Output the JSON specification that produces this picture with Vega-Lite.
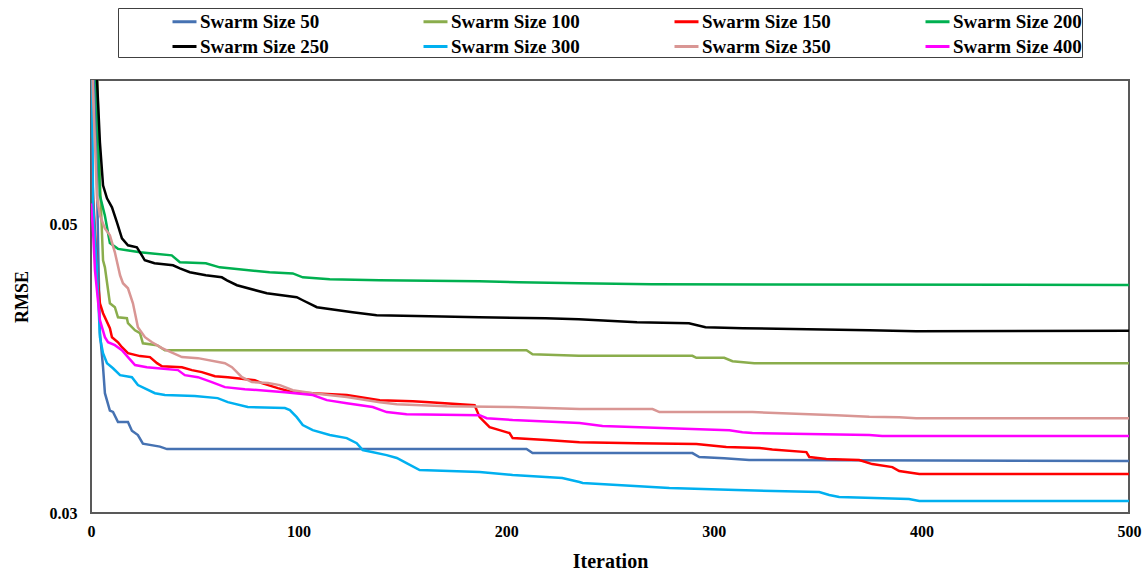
{
  "$schema": "https://vega.github.io/schema/vega-lite/v6.json",
  "width": 1038,
  "height": 433,
  "autosize": {"type": "none"},
  "padding": {"left": 91, "top": 80, "right": 16, "bottom": 60},
  "background": "white",
  "config": {
    "view": {"stroke": "#595959", "strokeWidth": 2},
    "font": "Liberation Serif"
  },
  "datasets": {
    "d": [
      {"s": "Swarm Size 50", "i": 0, "v": 0.075},
      {"s": "Swarm Size 50", "i": 2, "v": 0.06},
      {"s": "Swarm Size 50", "i": 3.5, "v": 0.048},
      {"s": "Swarm Size 50", "i": 4.3, "v": 0.0425},
      {"s": "Swarm Size 50", "i": 5.8, "v": 0.0401},
      {"s": "Swarm Size 50", "i": 6.7, "v": 0.0383},
      {"s": "Swarm Size 50", "i": 9.1, "v": 0.0371},
      {"s": "Swarm Size 50", "i": 10.6, "v": 0.037},
      {"s": "Swarm Size 50", "i": 13, "v": 0.0363},
      {"s": "Swarm Size 50", "i": 17.8, "v": 0.0363},
      {"s": "Swarm Size 50", "i": 19.7, "v": 0.0357},
      {"s": "Swarm Size 50", "i": 22.6, "v": 0.0354},
      {"s": "Swarm Size 50", "i": 25, "v": 0.0348},
      {"s": "Swarm Size 50", "i": 33.2, "v": 0.0346},
      {"s": "Swarm Size 50", "i": 36.6, "v": 0.03443},
      {"s": "Swarm Size 50", "i": 209.8, "v": 0.03443},
      {"s": "Swarm Size 50", "i": 212.7, "v": 0.03415},
      {"s": "Swarm Size 50", "i": 289.7, "v": 0.03415},
      {"s": "Swarm Size 50", "i": 293, "v": 0.03388},
      {"s": "Swarm Size 50", "i": 305, "v": 0.0338},
      {"s": "Swarm Size 50", "i": 317, "v": 0.03367},
      {"s": "Swarm Size 50", "i": 500, "v": 0.0336},

      {"s": "Swarm Size 100", "i": 0, "v": 0.08},
      {"s": "Swarm Size 100", "i": 3, "v": 0.06},
      {"s": "Swarm Size 100", "i": 4.3, "v": 0.053},
      {"s": "Swarm Size 100", "i": 5.8, "v": 0.04751},
      {"s": "Swarm Size 100", "i": 6.7, "v": 0.04702},
      {"s": "Swarm Size 100", "i": 9.1, "v": 0.04453},
      {"s": "Swarm Size 100", "i": 11.5, "v": 0.04426},
      {"s": "Swarm Size 100", "i": 13, "v": 0.04356},
      {"s": "Swarm Size 100", "i": 17.3, "v": 0.0435},
      {"s": "Swarm Size 100", "i": 17.8, "v": 0.04315},
      {"s": "Swarm Size 100", "i": 21.2, "v": 0.04266},
      {"s": "Swarm Size 100", "i": 23.6, "v": 0.04246},
      {"s": "Swarm Size 100", "i": 25, "v": 0.04176},
      {"s": "Swarm Size 100", "i": 31.8, "v": 0.04163},
      {"s": "Swarm Size 100", "i": 35.6, "v": 0.04128},
      {"s": "Swarm Size 100", "i": 209.8, "v": 0.04128},
      {"s": "Swarm Size 100", "i": 212.7, "v": 0.041},
      {"s": "Swarm Size 100", "i": 235, "v": 0.04089},
      {"s": "Swarm Size 100", "i": 289.7, "v": 0.04089},
      {"s": "Swarm Size 100", "i": 291.6, "v": 0.04075},
      {"s": "Swarm Size 100", "i": 305, "v": 0.04075},
      {"s": "Swarm Size 100", "i": 309, "v": 0.04052},
      {"s": "Swarm Size 100", "i": 319.5, "v": 0.04038},
      {"s": "Swarm Size 100", "i": 500, "v": 0.04038},

      {"s": "Swarm Size 150", "i": 0, "v": 0.056},
      {"s": "Swarm Size 150", "i": 1, "v": 0.052},
      {"s": "Swarm Size 150", "i": 2.9, "v": 0.04682},
      {"s": "Swarm Size 150", "i": 4.3, "v": 0.04453},
      {"s": "Swarm Size 150", "i": 5.8, "v": 0.04384},
      {"s": "Swarm Size 150", "i": 9.1, "v": 0.0428},
      {"s": "Swarm Size 150", "i": 10.1, "v": 0.04218},
      {"s": "Swarm Size 150", "i": 13, "v": 0.04183},
      {"s": "Swarm Size 150", "i": 14.9, "v": 0.04149},
      {"s": "Swarm Size 150", "i": 17.8, "v": 0.04107},
      {"s": "Swarm Size 150", "i": 23.6, "v": 0.04087},
      {"s": "Swarm Size 150", "i": 28.4, "v": 0.0408},
      {"s": "Swarm Size 150", "i": 31.8, "v": 0.04038},
      {"s": "Swarm Size 150", "i": 34.2, "v": 0.04017},
      {"s": "Swarm Size 150", "i": 43.8, "v": 0.0401},
      {"s": "Swarm Size 150", "i": 48.6, "v": 0.0399},
      {"s": "Swarm Size 150", "i": 53.4, "v": 0.03976},
      {"s": "Swarm Size 150", "i": 59.7, "v": 0.03948},
      {"s": "Swarm Size 150", "i": 65.9, "v": 0.03941},
      {"s": "Swarm Size 150", "i": 70.3, "v": 0.03934},
      {"s": "Swarm Size 150", "i": 78.9, "v": 0.0392},
      {"s": "Swarm Size 150", "i": 82.3, "v": 0.039},
      {"s": "Swarm Size 150", "i": 90, "v": 0.03865},
      {"s": "Swarm Size 150", "i": 97.2, "v": 0.03837},
      {"s": "Swarm Size 150", "i": 123.2, "v": 0.03817},
      {"s": "Swarm Size 150", "i": 139.1, "v": 0.03782},
      {"s": "Swarm Size 150", "i": 155, "v": 0.03775},
      {"s": "Swarm Size 150", "i": 163.1, "v": 0.03768},
      {"s": "Swarm Size 150", "i": 184.8, "v": 0.03747},
      {"s": "Swarm Size 150", "i": 187.2, "v": 0.03664},
      {"s": "Swarm Size 150", "i": 192, "v": 0.03595},
      {"s": "Swarm Size 150", "i": 196.8, "v": 0.03574},
      {"s": "Swarm Size 150", "i": 201.6, "v": 0.03554},
      {"s": "Swarm Size 150", "i": 203.1, "v": 0.03519},
      {"s": "Swarm Size 150", "i": 219.4, "v": 0.03505},
      {"s": "Swarm Size 150", "i": 235.3, "v": 0.03491},
      {"s": "Swarm Size 150", "i": 262.8, "v": 0.03484},
      {"s": "Swarm Size 150", "i": 291.6, "v": 0.03478},
      {"s": "Swarm Size 150", "i": 306, "v": 0.03457},
      {"s": "Swarm Size 150", "i": 322, "v": 0.0345},
      {"s": "Swarm Size 150", "i": 328.2, "v": 0.0344},
      {"s": "Swarm Size 150", "i": 344.6, "v": 0.03422},
      {"s": "Swarm Size 150", "i": 346, "v": 0.03388},
      {"s": "Swarm Size 150", "i": 354.2, "v": 0.03374},
      {"s": "Swarm Size 150", "i": 370, "v": 0.03367},
      {"s": "Swarm Size 150", "i": 376.3, "v": 0.03339},
      {"s": "Swarm Size 150", "i": 386, "v": 0.03318},
      {"s": "Swarm Size 150", "i": 389.3, "v": 0.03291},
      {"s": "Swarm Size 150", "i": 399, "v": 0.0327},
      {"s": "Swarm Size 150", "i": 500, "v": 0.0327},

      {"s": "Swarm Size 200", "i": 0, "v": 0.07},
      {"s": "Swarm Size 200", "i": 2.5, "v": 0.06},
      {"s": "Swarm Size 200", "i": 4.3, "v": 0.052},
      {"s": "Swarm Size 200", "i": 6.7, "v": 0.0506},
      {"s": "Swarm Size 200", "i": 9.1, "v": 0.0487},
      {"s": "Swarm Size 200", "i": 13, "v": 0.0483},
      {"s": "Swarm Size 200", "i": 17.3, "v": 0.0482},
      {"s": "Swarm Size 200", "i": 23.6, "v": 0.04806},
      {"s": "Swarm Size 200", "i": 38.9, "v": 0.04785},
      {"s": "Swarm Size 200", "i": 42.8, "v": 0.04737},
      {"s": "Swarm Size 200", "i": 55.3, "v": 0.0473},
      {"s": "Swarm Size 200", "i": 62, "v": 0.04702},
      {"s": "Swarm Size 200", "i": 86, "v": 0.04668},
      {"s": "Swarm Size 200", "i": 97.2, "v": 0.0466},
      {"s": "Swarm Size 200", "i": 102, "v": 0.04633},
      {"s": "Swarm Size 200", "i": 115, "v": 0.04619},
      {"s": "Swarm Size 200", "i": 139, "v": 0.04612},
      {"s": "Swarm Size 200", "i": 187, "v": 0.04606},
      {"s": "Swarm Size 200", "i": 206, "v": 0.04599},
      {"s": "Swarm Size 200", "i": 235, "v": 0.04592},
      {"s": "Swarm Size 200", "i": 270, "v": 0.04585},
      {"s": "Swarm Size 200", "i": 500, "v": 0.0458},

      {"s": "Swarm Size 250", "i": 0, "v": 0.075},
      {"s": "Swarm Size 250", "i": 2.9, "v": 0.06},
      {"s": "Swarm Size 250", "i": 4.3, "v": 0.05567},
      {"s": "Swarm Size 250", "i": 5.8, "v": 0.0527},
      {"s": "Swarm Size 250", "i": 7.7, "v": 0.0518},
      {"s": "Swarm Size 250", "i": 10.1, "v": 0.05118},
      {"s": "Swarm Size 250", "i": 12.5, "v": 0.05014},
      {"s": "Swarm Size 250", "i": 14.9, "v": 0.04903},
      {"s": "Swarm Size 250", "i": 17.8, "v": 0.04855},
      {"s": "Swarm Size 250", "i": 22.1, "v": 0.04841},
      {"s": "Swarm Size 250", "i": 24.5, "v": 0.04785},
      {"s": "Swarm Size 250", "i": 25.9, "v": 0.04751},
      {"s": "Swarm Size 250", "i": 30.6, "v": 0.0473},
      {"s": "Swarm Size 250", "i": 39.5, "v": 0.04716},
      {"s": "Swarm Size 250", "i": 42.8, "v": 0.04695},
      {"s": "Swarm Size 250", "i": 47.6, "v": 0.04668},
      {"s": "Swarm Size 250", "i": 55.3, "v": 0.04647},
      {"s": "Swarm Size 250", "i": 63, "v": 0.04633},
      {"s": "Swarm Size 250", "i": 65.5, "v": 0.04612},
      {"s": "Swarm Size 250", "i": 70.3, "v": 0.04578},
      {"s": "Swarm Size 250", "i": 84.7, "v": 0.04522},
      {"s": "Swarm Size 250", "i": 99.1, "v": 0.04495},
      {"s": "Swarm Size 250", "i": 102, "v": 0.04474},
      {"s": "Swarm Size 250", "i": 108.8, "v": 0.04426},
      {"s": "Swarm Size 250", "i": 126, "v": 0.04391},
      {"s": "Swarm Size 250", "i": 137.6, "v": 0.0437},
      {"s": "Swarm Size 250", "i": 163, "v": 0.04363},
      {"s": "Swarm Size 250", "i": 187, "v": 0.04356},
      {"s": "Swarm Size 250", "i": 219, "v": 0.0435},
      {"s": "Swarm Size 250", "i": 235, "v": 0.04343},
      {"s": "Swarm Size 250", "i": 263, "v": 0.04322},
      {"s": "Swarm Size 250", "i": 288, "v": 0.04315},
      {"s": "Swarm Size 250", "i": 296, "v": 0.04287},
      {"s": "Swarm Size 250", "i": 314, "v": 0.0428},
      {"s": "Swarm Size 250", "i": 375, "v": 0.04266},
      {"s": "Swarm Size 250", "i": 397.5, "v": 0.0426},
      {"s": "Swarm Size 250", "i": 500, "v": 0.04263},

      {"s": "Swarm Size 300", "i": 0, "v": 0.075},
      {"s": "Swarm Size 300", "i": 0.5, "v": 0.06},
      {"s": "Swarm Size 300", "i": 1, "v": 0.0515},
      {"s": "Swarm Size 300", "i": 1.9, "v": 0.049},
      {"s": "Swarm Size 300", "i": 2.9, "v": 0.04682},
      {"s": "Swarm Size 300", "i": 4.3, "v": 0.04218},
      {"s": "Swarm Size 300", "i": 5.8, "v": 0.04107},
      {"s": "Swarm Size 300", "i": 7.7, "v": 0.04038},
      {"s": "Swarm Size 300", "i": 10.6, "v": 0.04003},
      {"s": "Swarm Size 300", "i": 14, "v": 0.03955},
      {"s": "Swarm Size 300", "i": 19.7, "v": 0.03941},
      {"s": "Swarm Size 300", "i": 22.6, "v": 0.03886},
      {"s": "Swarm Size 300", "i": 30.8, "v": 0.0383},
      {"s": "Swarm Size 300", "i": 35.6, "v": 0.03817},
      {"s": "Swarm Size 300", "i": 50, "v": 0.0381},
      {"s": "Swarm Size 300", "i": 61, "v": 0.03796},
      {"s": "Swarm Size 300", "i": 65.9, "v": 0.03768},
      {"s": "Swarm Size 300", "i": 75.5, "v": 0.03734},
      {"s": "Swarm Size 300", "i": 93.4, "v": 0.03727},
      {"s": "Swarm Size 300", "i": 95.8, "v": 0.03713},
      {"s": "Swarm Size 300", "i": 99.1, "v": 0.03664},
      {"s": "Swarm Size 300", "i": 102, "v": 0.03609},
      {"s": "Swarm Size 300", "i": 106.8, "v": 0.03574},
      {"s": "Swarm Size 300", "i": 115, "v": 0.0354},
      {"s": "Swarm Size 300", "i": 123.2, "v": 0.03519},
      {"s": "Swarm Size 300", "i": 128, "v": 0.03484},
      {"s": "Swarm Size 300", "i": 130.9, "v": 0.03436},
      {"s": "Swarm Size 300", "i": 142.4, "v": 0.03401},
      {"s": "Swarm Size 300", "i": 147.3, "v": 0.03381},
      {"s": "Swarm Size 300", "i": 152, "v": 0.03346},
      {"s": "Swarm Size 300", "i": 158.3, "v": 0.03298},
      {"s": "Swarm Size 300", "i": 187.2, "v": 0.03284},
      {"s": "Swarm Size 300", "i": 203.1, "v": 0.03263},
      {"s": "Swarm Size 300", "i": 227, "v": 0.03242},
      {"s": "Swarm Size 300", "i": 235.3, "v": 0.03215},
      {"s": "Swarm Size 300", "i": 236.8, "v": 0.03208},
      {"s": "Swarm Size 300", "i": 278.6, "v": 0.03173},
      {"s": "Swarm Size 300", "i": 310.9, "v": 0.03159},
      {"s": "Swarm Size 300", "i": 350.8, "v": 0.03145},
      {"s": "Swarm Size 300", "i": 355.6, "v": 0.03125},
      {"s": "Swarm Size 300", "i": 360.4, "v": 0.03111},
      {"s": "Swarm Size 300", "i": 394, "v": 0.03097},
      {"s": "Swarm Size 300", "i": 399, "v": 0.03083},
      {"s": "Swarm Size 300", "i": 500, "v": 0.03083},

      {"s": "Swarm Size 350", "i": 0, "v": 0.065},
      {"s": "Swarm Size 350", "i": 1, "v": 0.0588},
      {"s": "Swarm Size 350", "i": 1.9, "v": 0.0557},
      {"s": "Swarm Size 350", "i": 2.9, "v": 0.0518},
      {"s": "Swarm Size 350", "i": 4.3, "v": 0.05062},
      {"s": "Swarm Size 350", "i": 6.7, "v": 0.04972},
      {"s": "Swarm Size 350", "i": 9.1, "v": 0.04924},
      {"s": "Swarm Size 350", "i": 11.5, "v": 0.04806},
      {"s": "Swarm Size 350", "i": 14, "v": 0.04647},
      {"s": "Swarm Size 350", "i": 15.4, "v": 0.04592},
      {"s": "Swarm Size 350", "i": 17.8, "v": 0.04557},
      {"s": "Swarm Size 350", "i": 20.2, "v": 0.04453},
      {"s": "Swarm Size 350", "i": 22.6, "v": 0.04287},
      {"s": "Swarm Size 350", "i": 26, "v": 0.04218},
      {"s": "Swarm Size 350", "i": 29.4, "v": 0.04183},
      {"s": "Swarm Size 350", "i": 34.2, "v": 0.04142},
      {"s": "Swarm Size 350", "i": 43.8, "v": 0.0408},
      {"s": "Swarm Size 350", "i": 51.5, "v": 0.04073},
      {"s": "Swarm Size 350", "i": 64.5, "v": 0.04038},
      {"s": "Swarm Size 350", "i": 67.9, "v": 0.0401},
      {"s": "Swarm Size 350", "i": 72.7, "v": 0.03941},
      {"s": "Swarm Size 350", "i": 77.5, "v": 0.03907},
      {"s": "Swarm Size 350", "i": 85.2, "v": 0.039},
      {"s": "Swarm Size 350", "i": 91, "v": 0.03886},
      {"s": "Swarm Size 350", "i": 97.2, "v": 0.03851},
      {"s": "Swarm Size 350", "i": 106.8, "v": 0.0383},
      {"s": "Swarm Size 350", "i": 123.2, "v": 0.03803},
      {"s": "Swarm Size 350", "i": 139.1, "v": 0.03768},
      {"s": "Swarm Size 350", "i": 147.3, "v": 0.03754},
      {"s": "Swarm Size 350", "i": 171.3, "v": 0.0374},
      {"s": "Swarm Size 350", "i": 203.1, "v": 0.03734},
      {"s": "Swarm Size 350", "i": 235.3, "v": 0.0372},
      {"s": "Swarm Size 350", "i": 270.5, "v": 0.0372},
      {"s": "Swarm Size 350", "i": 273.8, "v": 0.03699},
      {"s": "Swarm Size 350", "i": 318.6, "v": 0.03699},
      {"s": "Swarm Size 350", "i": 359, "v": 0.03678},
      {"s": "Swarm Size 350", "i": 374.9, "v": 0.03667},
      {"s": "Swarm Size 350", "i": 389.3, "v": 0.03664},
      {"s": "Swarm Size 350", "i": 397.5, "v": 0.03657},
      {"s": "Swarm Size 350", "i": 500, "v": 0.03657},

      {"s": "Swarm Size 400", "i": 0, "v": 0.05145},
      {"s": "Swarm Size 400", "i": 1, "v": 0.0495},
      {"s": "Swarm Size 400", "i": 1.9, "v": 0.04682},
      {"s": "Swarm Size 400", "i": 4.3, "v": 0.04336},
      {"s": "Swarm Size 400", "i": 6.7, "v": 0.04218},
      {"s": "Swarm Size 400", "i": 8.2, "v": 0.04183},
      {"s": "Swarm Size 400", "i": 11.5, "v": 0.04163},
      {"s": "Swarm Size 400", "i": 14.9, "v": 0.04128},
      {"s": "Swarm Size 400", "i": 17.8, "v": 0.0408},
      {"s": "Swarm Size 400", "i": 21.2, "v": 0.04025},
      {"s": "Swarm Size 400", "i": 26.9, "v": 0.0401},
      {"s": "Swarm Size 400", "i": 32.2, "v": 0.04003},
      {"s": "Swarm Size 400", "i": 41.9, "v": 0.0399},
      {"s": "Swarm Size 400", "i": 45.2, "v": 0.03955},
      {"s": "Swarm Size 400", "i": 51.5, "v": 0.03941},
      {"s": "Swarm Size 400", "i": 58.2, "v": 0.03907},
      {"s": "Swarm Size 400", "i": 64.5, "v": 0.03872},
      {"s": "Swarm Size 400", "i": 74.1, "v": 0.03858},
      {"s": "Swarm Size 400", "i": 93.4, "v": 0.03837},
      {"s": "Swarm Size 400", "i": 106.8, "v": 0.03817},
      {"s": "Swarm Size 400", "i": 113.6, "v": 0.03782},
      {"s": "Swarm Size 400", "i": 123.2, "v": 0.03761},
      {"s": "Swarm Size 400", "i": 135.7, "v": 0.03734},
      {"s": "Swarm Size 400", "i": 142.4, "v": 0.03699},
      {"s": "Swarm Size 400", "i": 152, "v": 0.03685},
      {"s": "Swarm Size 400", "i": 187.2, "v": 0.03678},
      {"s": "Swarm Size 400", "i": 190.6, "v": 0.03657},
      {"s": "Swarm Size 400", "i": 203.1, "v": 0.03644},
      {"s": "Swarm Size 400", "i": 235.3, "v": 0.03623},
      {"s": "Swarm Size 400", "i": 246.4, "v": 0.03602},
      {"s": "Swarm Size 400", "i": 278.6, "v": 0.03588},
      {"s": "Swarm Size 400", "i": 307.5, "v": 0.03574},
      {"s": "Swarm Size 400", "i": 313.8, "v": 0.0356},
      {"s": "Swarm Size 400", "i": 318.6, "v": 0.03554},
      {"s": "Swarm Size 400", "i": 374.9, "v": 0.0354},
      {"s": "Swarm Size 400", "i": 381.1, "v": 0.03533},
      {"s": "Swarm Size 400", "i": 500, "v": 0.03533}
    ]
  },
  "data": {"name": "d"},
  "mark": {"type": "line", "clip": true, "strokeWidth": 2.5},
  "encoding": {
    "x": {
      "field": "i",
      "type": "quantitative",
      "scale": {"domain": [0, 500], "nice": false},
      "axis": {
        "values": [0, 100, 200, 300, 400, 500],
        "title": "Iteration",
        "grid": false,
        "ticks": false,
        "domain": false,
        "labelFont": "Liberation Serif",
        "labelFontWeight": "bold",
        "labelFontSize": 16,
        "labelColor": "#000000",
        "labelPadding": 10,
        "labelFlush": false,
        "titleFont": "Liberation Serif",
        "titleFontWeight": "bold",
        "titleFontSize": 20,
        "titleColor": "#000000",
        "titlePadding": 12
      }
    },
    "y": {
      "field": "v",
      "type": "quantitative",
      "scale": {"domain": [0.03, 0.06], "nice": false, "zero": false},
      "axis": {
        "values": [0.03, 0.05],
        "format": ".2f",
        "title": "RMSE",
        "grid": false,
        "ticks": false,
        "domain": false,
        "labelFont": "Liberation Serif",
        "labelFontWeight": "bold",
        "labelFontSize": 16,
        "labelColor": "#000000",
        "labelPadding": 14,
        "labelFlush": false,
        "titleFont": "Liberation Serif",
        "titleFontWeight": "bold",
        "titleFontSize": 18,
        "titleColor": "#000000",
        "titlePadding": 18
      }
    },
    "color": {
      "field": "s",
      "type": "nominal",
      "scale": {
        "domain": ["Swarm Size 50", "Swarm Size 100", "Swarm Size 150", "Swarm Size 200", "Swarm Size 250", "Swarm Size 300", "Swarm Size 350", "Swarm Size 400"],
        "range": ["#4672B2", "#8AAD4C", "#FF0000", "#00B050", "#000000", "#00B0F0", "#D99694", "#FF00FF"]
      },
      "legend": {
        "title": null,
        "orient": "none",
        "legendX": 27,
        "legendY": -72,
        "direction": "horizontal",
        "columns": 4,
        "gridAlign": "all",
        "symbolType": "stroke",
        "symbolSize": 576,
        "symbolStrokeWidth": 3,
        "symbolOffset": 53,
        "labelOffset": 2,
        "labelFont": "Liberation Serif",
        "labelFontWeight": "bold",
        "labelFontSize": 19,
        "labelColor": "#000000",
        "labelLimit": 400,
        "strokeColor": "#404040",
        "padding": 0,
        "columnPadding": 40,
        "rowPadding": 1
      }
    }
  }
}
